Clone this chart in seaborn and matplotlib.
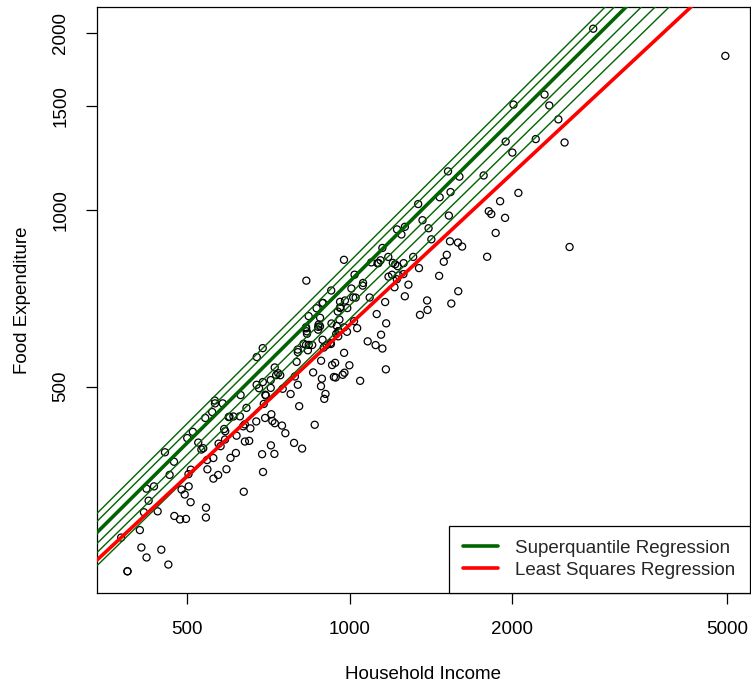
import numpy as np
import pandas as pd
import matplotlib
matplotlib.use("Agg")
import matplotlib.pyplot as plt
import seaborn as sns
from matplotlib.ticker import FixedLocator, FixedFormatter, NullLocator
from matplotlib.lines import Line2D

income = [420.1577, 541.4117, 901.1575, 639.0802, 750.8756, 945.7989, 829.3979, 979.1648, 1309.8789, 1492.3987,
          502.8390, 616.7168, 790.9225, 555.8786, 713.4412, 838.7561, 535.0766, 596.4408, 924.5619, 487.7583,
          692.6397, 997.8770, 506.9995, 654.1587, 933.9193, 433.6813, 587.5962, 896.4746, 454.4782, 584.9989,
          800.7990, 502.4369, 713.5197, 906.0006, 880.5969, 796.8289, 854.8791, 1167.3716, 523.8000, 670.7792,
          377.0584, 851.5430, 1121.0937, 625.5179, 805.5377, 558.5812, 884.4005, 1257.4989, 2051.1789, 1466.3330,
          730.0989, 2432.3910, 940.9218, 1177.8547, 1222.5939, 1519.5811, 687.6638, 953.1192, 953.1192, 953.1192,
          939.0418, 1283.4025, 1511.5789, 1342.5821, 511.7980, 689.7988, 1532.3074, 1056.0808, 387.3195, 387.3195,
          410.9987, 499.7510, 832.7554, 614.9986, 887.4658, 1595.1611, 1807.9520, 541.2006, 1057.6767, 800.7990,
          1245.6964, 1201.0002, 634.4002, 956.2315, 1148.6010, 1768.8236, 2822.5330, 922.3548, 2293.1920, 627.4726,
          889.9809, 1162.2000, 1197.0794, 530.7972, 1142.1554, 1088.0039, 484.6612, 1536.0201, 678.8974, 671.8802,
          690.4683, 860.6948, 873.3095, 894.4598, 1148.6470, 926.8762, 839.0414, 829.4974, 1264.0043, 1937.9771,
          698.8317, 920.4199, 1897.5711, 891.6824, 889.6784, 1221.4818, 544.5991, 1031.4491, 1462.9497, 830.4353,
          975.0415, 1337.9983, 867.6427, 725.7459, 989.0056, 1525.0005, 672.1960, 923.3977, 472.3215, 590.7601,
          831.7983, 1139.4945, 507.5169, 576.1972, 696.5991, 650.8180, 949.5802, 497.1193, 570.1674, 724.7306,
          408.3399, 638.6713, 1225.7890, 715.3701, 800.4708, 975.5974, 1613.7565, 608.5019, 958.6634, 835.9426,
          1024.8177, 1006.4353, 726.0000, 494.4174, 776.5958, 415.4407, 581.3599, 643.3571, 2551.6615, 1795.3226,
          1165.7734, 815.6212, 1264.2066, 1095.4056, 447.4479, 1178.9742, 975.8023, 1017.8522, 423.8798, 558.7767,
          943.2487, 1348.3002, 2340.6174, 587.1792, 1540.9741, 1115.8481, 1044.6843, 1389.7929, 2497.7860, 1585.3809,
          1862.0438, 2008.8546, 697.3099, 571.2517, 598.3465, 461.0977, 977.1107, 883.9849, 718.3594, 543.8971,
          1587.3480, 4957.8130, 969.6838, 419.9980, 561.9990, 689.5988, 1398.5203, 820.8168, 875.1716, 1392.4499,
          1256.3174, 1362.8590, 1999.2552, 1209.4730, 1125.0356, 1827.4010, 1014.1540, 880.3944, 873.7375, 951.4432,
          473.0022, 601.0007, 713.9979, 829.2984, 959.7953, 1212.9891, 958.8760, 1129.4954, 1943.0415, 539.6388,
          463.5990, 562.6369, 736.7584, 1415.4461, 2208.7897, 636.0009, 759.4081, 1078.8382, 748.6413, 987.6417,
          788.0961, 1020.0225, 1230.9235, 440.5174, 743.0772]

foodexp = [255.8394, 310.9587, 485.6800, 402.9974, 495.5608, 633.7978, 630.7566, 700.4409, 830.9586, 815.3602,
           338.0014, 412.3613, 520.0006, 452.4015, 512.7201, 658.8395, 392.5995, 443.5586, 640.1164, 333.8394,
           466.9583, 543.3969, 317.7198, 424.3209, 518.9617, 338.0014, 419.6412, 476.3200, 386.3602, 423.2783,
           503.3572, 354.6389, 497.3182, 588.5195, 654.5971, 550.7274, 528.3770, 640.4813, 401.3204, 435.9990,
           276.5606, 588.3488, 664.1978, 444.8602, 462.8995, 377.7792, 553.1504, 810.8962, 1067.9541, 1049.8788,
           522.7012, 1424.8047, 517.9196, 830.9586, 925.5795, 1162.0024, 383.4580, 621.1173, 621.1173, 621.1173,
           548.6002, 745.2353, 837.8005, 795.3402, 418.5976, 508.7974, 883.2780, 742.5276, 242.3202, 242.3202,
           266.0010, 408.4992, 614.7588, 385.3184, 515.6200, 1138.1620, 993.9630, 299.1993, 750.3202, 572.0807,
           907.3969, 811.5776, 427.7975, 649.9985, 860.6002, 1143.4211, 2032.6792, 590.6183, 1570.3911, 483.4800,
           600.4804, 696.2021, 774.7962, 390.5984, 612.5619, 708.7622, 296.9192, 1071.4627, 496.5976, 503.3974,
           357.6411, 430.3376, 624.6990, 582.5413, 580.2215, 543.8807, 588.6372, 627.9995, 712.1012, 968.3949,
           482.5816, 593.1694, 1033.5658, 693.6795, 693.6795, 761.2791, 361.3981, 628.4522, 771.4486, 757.1180,
           821.5417, 1022.3210, 679.4398, 538.7491, 679.9981, 977.0033, 561.2015, 728.3997, 372.3186, 361.5210,
           620.8006, 819.9964, 360.8780, 395.7608, 442.0001, 404.0384, 670.7993, 297.5702, 353.4882, 383.9376,
           284.8008, 431.1000, 801.3518, 448.4513, 577.9111, 570.5210, 865.3205, 444.5578, 680.4198, 576.2779,
           708.4787, 734.2356, 433.0010, 327.4188, 485.5198, 305.4390, 468.0008, 459.8177, 863.9199, 831.4407,
           534.7610, 392.0502, 934.9752, 813.3081, 263.7100, 769.0838, 630.5863, 645.9874, 319.5584, 348.4518,
           614.5068, 662.0096, 1504.3708, 406.2180, 692.1689, 588.1371, 511.2609, 700.5600, 1301.1451, 879.0660,
           912.8851, 1509.7812, 484.0605, 399.6703, 444.1001, 248.8101, 527.8014, 500.6313, 436.8107, 374.7990,
           726.3921, 1827.2000, 523.4911, 334.9998, 473.2009, 581.2029, 929.7540, 591.1974, 637.5483, 674.9509,
           776.7589, 959.5170, 1250.9643, 737.8201, 810.6772, 983.0009, 708.8968, 633.1200, 631.7982, 608.6419,
           300.9999, 377.9984, 397.0015, 588.5195, 681.7616, 807.3603, 696.8011, 811.1962, 1305.7201, 442.0001,
           353.6013, 468.0008, 526.7573, 890.2390, 1318.8033, 331.0005, 416.4015, 596.8406, 429.0399, 619.6408,
           400.7990, 775.0209, 772.7611, 306.5191, 522.6019]

x_ticks = [500, 1000, 2000, 5000]
y_ticks = [500, 1000, 1500, 2000]

# superquantile regression lines: log10(food) = a + b * log10(income)
sq_intercepts = [0.164, 0.1554, 0.1391, 0.138, 0.1416, 0.1218]
sq_slopes = [0.916, 0.914, 0.913, 0.906, 0.8985, 0.8975]
sq_thick = [False, False, True, False, False, False]

legend_labels = ["Superquantile Regression", "Least Squares Regression"]

sns.set_theme(style="white")
plt.rcParams["font.family"] = ["Liberation Sans", "DejaVu Sans"]
FS = 13.5

df = pd.DataFrame({"income": income, "food": foodexp})
lx = np.log10(df["income"].to_numpy())
ly = np.log10(df["food"].to_numpy())

fig = plt.figure(figsize=(7.51, 6.88), dpi=100)
ax = fig.add_axes([97 / 751, 95 / 688, 652.5 / 751, 586 / 688])
ax.set_xscale("log")
ax.set_yscale("log")

sns.scatterplot(data=df, x="income", y="food", ax=ax, marker="o", s=26,
                facecolors="none", edgecolor="black", linewidth=0.9, zorder=2)

xr = lx.max() - lx.min()
yr = ly.max() - ly.min()
xlim = (10 ** (lx.min() - 0.04 * xr), 10 ** (lx.max() + 0.04 * xr))
ylim = (10 ** (ly.min() - 0.04 * yr), 10 ** (ly.max() + 0.04 * yr))

xg = np.array([xlim[0] / 1.05, xlim[1] * 1.05])
for a, b, thick in zip(sq_intercepts, sq_slopes, sq_thick):
    yg = 10 ** (a + b * np.log10(xg))
    sns.lineplot(x=xg, y=yg, ax=ax, color="#006400", linewidth=2.6 if thick else 1.0,
                 estimator=None, sort=False, zorder=3)

b_ols, a_ols = np.polyfit(lx, ly, 1)
sns.lineplot(x=xg, y=10 ** (a_ols + b_ols * np.log10(xg)), ax=ax, color="#FF0000",
             linewidth=2.6, estimator=None, sort=False, zorder=4)

ax.set_xlim(xlim)
ax.set_ylim(ylim)

ax.xaxis.set_major_locator(FixedLocator(x_ticks))
ax.xaxis.set_major_formatter(FixedFormatter([str(v) for v in x_ticks]))
ax.yaxis.set_major_locator(FixedLocator(y_ticks))
ax.yaxis.set_major_formatter(FixedFormatter([str(v) for v in y_ticks]))
ax.xaxis.set_minor_locator(NullLocator())
ax.yaxis.set_minor_locator(NullLocator())

ax.tick_params(axis="both", which="major", direction="out", length=8, width=0.9,
               color="black", labelsize=FS, labelcolor="black", pad=12,
               bottom=True, left=True)
for lab in ax.get_yticklabels():
    lab.set_rotation(90)
    lab.set_va("center")

for sp in ax.spines.values():
    sp.set_color("black")
    sp.set_linewidth(0.9)

ax.set_xlabel("Household Income", fontsize=FS, color="black", labelpad=20.5)
ax.set_ylabel("Food Expenditure", fontsize=FS, color="black", labelpad=15.5)

handles = [Line2D([], [], color="#006400", lw=2.6), Line2D([], [], color="#FF0000", lw=2.6)]
leg = ax.legend(handles, legend_labels, loc="lower right", fontsize=FS, frameon=True,
                fancybox=False, framealpha=1, edgecolor="black", borderaxespad=0,
                handlelength=1.9, handletextpad=0.9, borderpad=0.75, labelspacing=0.27)
leg.get_frame().set_linewidth(0.9)

fig.savefig("out.png", dpi=100)
